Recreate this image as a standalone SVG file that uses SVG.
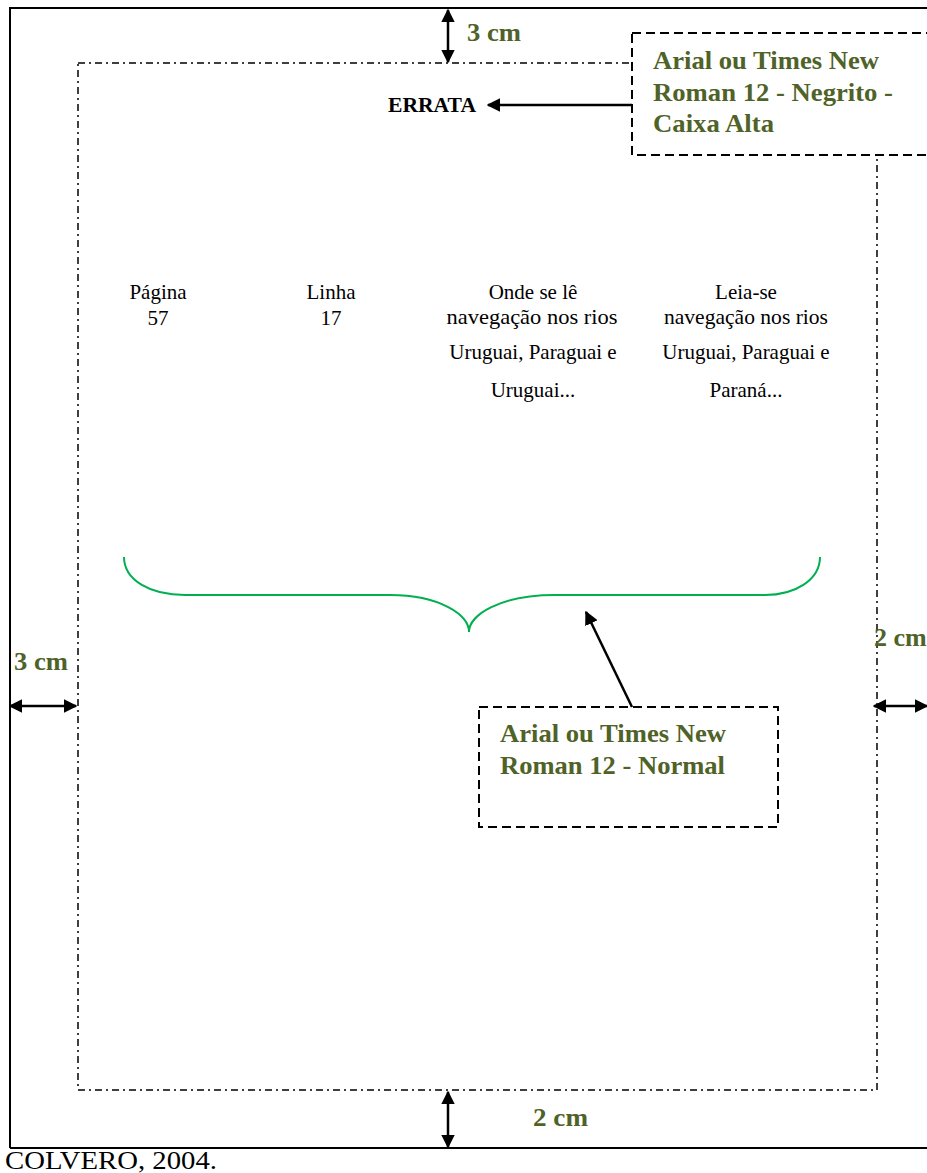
<svg xmlns="http://www.w3.org/2000/svg" width="927" height="1173" viewBox="0 0 927 1173">
<style>
.lbl{font-family:"Liberation Serif",serif;font-weight:bold;font-size:26px;fill:#4F6228}
.tx{font-family:"Liberation Serif",serif;font-size:21px;fill:#000;text-anchor:middle}
.call{fill:#fff;stroke:#000;stroke-width:2;stroke-dasharray:9,5}
.arr{stroke:#000;stroke-width:2.5;fill:none}
</style>
<defs>
<marker id="ah" viewBox="0 0 10 10" refX="9" refY="5" markerWidth="5.5" markerHeight="5.5" orient="auto-start-reverse" markerUnits="strokeWidth">
<path d="M0,0 L10,5 L0,10 z" fill="#000"/>
</marker>
</defs>
<rect x="0" y="0" width="927" height="1173" fill="#fff"/>
<g id="page">
<path d="M10,1148 L10,8 L927,8 M10,1148 L927,1148" fill="none" stroke="#000" stroke-width="2"/>
</g>
<g id="margin">
<rect x="78" y="63" width="799" height="1027" fill="none" stroke="#000" stroke-width="1.5" stroke-dasharray="7,4,2,4"/>
</g>
<g id="brace">
<path d="M124,557 C124,580 150,595 185,595 L390,595 C440,595 469,615 469,632 C469,615 500,595 555,595 L765,595 C795,595 820,580 820,557" fill="none" stroke="#00B050" stroke-width="2"/>
</g>
<g id="callout-top">
<rect class="call" x="632" y="33" width="310" height="122"/>
<text class="lbl" x="653" y="69" textLength="226" lengthAdjust="spacingAndGlyphs">Arial ou Times New</text>
<text class="lbl" x="653" y="101" textLength="240" lengthAdjust="spacingAndGlyphs">Roman 12 - Negrito -</text>
<text class="lbl" x="653" y="132" textLength="121" lengthAdjust="spacingAndGlyphs">Caixa Alta</text>
</g>
<g id="callout-bottom">
<rect class="call" x="479" y="707" width="299" height="120"/>
<text class="lbl" x="500" y="742" textLength="226" lengthAdjust="spacingAndGlyphs">Arial ou Times New</text>
<text class="lbl" x="500" y="774" textLength="225" lengthAdjust="spacingAndGlyphs">Roman 12 - Normal</text>
</g>
<g id="errata">
<text x="388" y="112" font-family="Liberation Serif,serif" font-weight="bold" font-size="20" fill="#000" textLength="88" lengthAdjust="spacingAndGlyphs">ERRATA</text>
</g>
<g id="table">
<text class="tx" x="158" y="299">Página</text>
<text class="tx" x="158" y="325">57</text>
<text class="tx" x="331" y="299">Linha</text>
<text class="tx" x="331" y="325">17</text>
<text class="tx" x="533" y="299">Onde se lê</text>
<text class="tx" x="532" y="324" textLength="171" lengthAdjust="spacingAndGlyphs">navegação nos rios</text>
<text class="tx" x="533" y="359">Uruguai, Paraguai e</text>
<text class="tx" x="533" y="397">Uruguai...</text>
<text class="tx" x="746" y="299">Leia-se</text>
<text class="tx" x="746" y="324" textLength="164" lengthAdjust="spacingAndGlyphs">navegação nos rios</text>
<text class="tx" x="746" y="359">Uruguai, Paraguai e</text>
<text class="tx" x="746" y="397">Paraná...</text>
</g>
<g id="dim-labels">
<text class="lbl" x="467" y="41" textLength="54" lengthAdjust="spacingAndGlyphs">3 cm</text>
<text class="lbl" x="14" y="670" textLength="54" lengthAdjust="spacingAndGlyphs">3 cm</text>
<text class="lbl" x="874" y="646">2 cm</text>
<text class="lbl" x="533" y="1126" textLength="55" lengthAdjust="spacingAndGlyphs">2 cm</text>
</g>
<g id="source">
<text x="5" y="1169" font-family="Liberation Serif,serif" font-size="26" fill="#000" textLength="212" lengthAdjust="spacingAndGlyphs">COLVERO, 2004.</text>
</g>
<g id="connectors">
<line class="arr" x1="632" y1="105" x2="488" y2="105" marker-end="url(#ah)"/>
<line class="arr" x1="632" y1="707" x2="586" y2="612" marker-end="url(#ah)"/>
<line class="arr" x1="448" y1="10" x2="448" y2="62" marker-start="url(#ah)" marker-end="url(#ah)"/>
<line class="arr" x1="448" y1="1092" x2="448" y2="1147" marker-start="url(#ah)" marker-end="url(#ah)"/>
<line class="arr" x1="10" y1="706" x2="76" y2="706" marker-start="url(#ah)" marker-end="url(#ah)"/>
<line class="arr" x1="874" y1="706" x2="927" y2="706" marker-start="url(#ah)" marker-end="url(#ah)"/>
</g>
</svg>
